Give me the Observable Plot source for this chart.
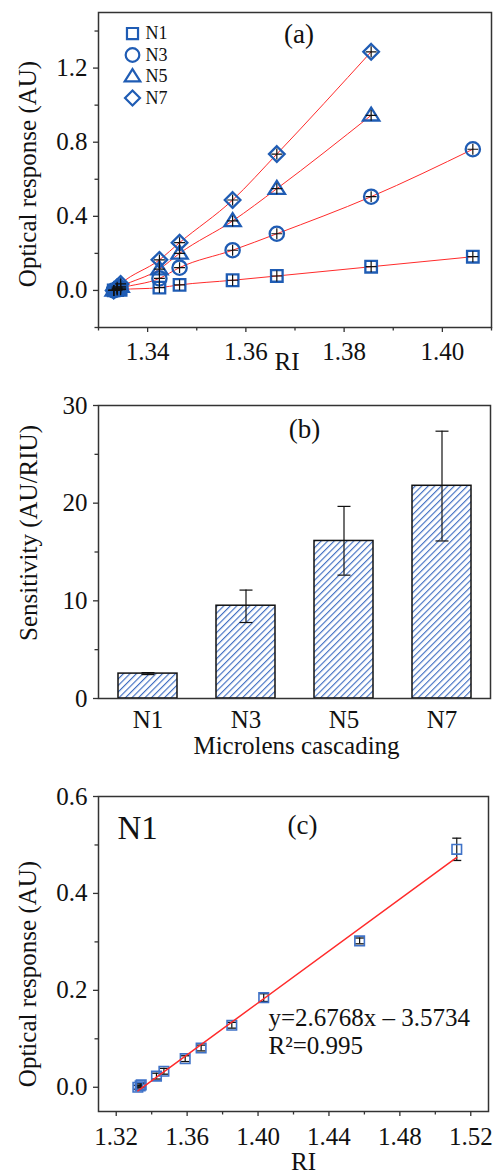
<!DOCTYPE html>
<html><head><meta charset="utf-8">
<script src="https://cdn.jsdelivr.net/npm/d3@7"></script>
<script src="https://cdn.jsdelivr.net/npm/@observablehq/plot@0.6"></script>
<style>
body{margin:0;background:#fff;}
#chart svg{display:block;}
</style>
</head><body><div id="chart"></div>
<script>
// ---------- Panel (a) data ----------
const seriesNames = ["N1", "N3", "N5", "N7"];
const riA = [1.3331, 1.3338, 1.3345, 1.3424, 1.3465, 1.3573, 1.3663, 1.3855, 1.4062];
const n1A = [0.000, 0.002, 0.004, 0.015, 0.030, 0.055, 0.078, 0.128, 0.182];
const n3A = [0.000, 0.006, 0.012, 0.065, 0.123, 0.217, 0.306, 0.506, 0.762];
const n5A = [0.000, 0.010, 0.020, 0.115, 0.200, 0.375, 0.549, 0.945];
const n7A = [0.000, 0.018, 0.035, 0.165, 0.258, 0.488, 0.736, 1.288];
const xMajorA = [1.34, 1.36, 1.38, 1.40];
const xMinorA = [1.33, 1.35, 1.37, 1.39, 1.41];
const yMajorA = [0.0, 0.4, 0.8, 1.2];
const yMinorA = [-0.2, 0.2, 0.6, 1.0, 1.4];

// ---------- Panel (b) data ----------
const cascades = ["N1", "N3", "N5", "N7"];
const sensitivity = [2.55, 9.5, 16.13, 21.78];
const sensLow = [2.45, 7.78, 12.63, 16.13];
const sensHigh = [2.65, 11.1, 19.67, 27.37];
const yMajorB = [0, 10, 20, 30];
const yMinorB = [5, 15, 25];

// ---------- Panel (c) data ----------
const riC = [1.3322, 1.3335, 1.3341, 1.3427, 1.3469, 1.3589, 1.3679, 1.3852, 1.4032, 1.4573, 1.5121];
const respC = [0.000, 0.003, 0.005, 0.023, 0.033, 0.059, 0.081, 0.128, 0.185, 0.302, 0.491];
const errC = [0.004, 0.004, 0.004, 0.006, 0.006, 0.006, 0.006, 0.006, 0.008, 0.006, 0.023];
const fitSlope = 2.6768;
const fitIntercept = -3.5734;
const xMajorC = [1.32, 1.36, 1.40, 1.44, 1.48, 1.52];
const xMinorC = [1.34, 1.38, 1.42, 1.46, 1.50];
const yMajorC = [0.0, 0.2, 0.4, 0.6];
const yMinorC = [0.1, 0.3, 0.5];

// ---------- styles ----------
const FONT = "'Liberation Serif', 'Times New Roman', serif";
const BLUE = "#1f5cb4";
const BLUE_C = "#3f72c8";
const RED = "#ff2b2b";
const AXIS = "#333";
const TXT = {textAnchor: "middle", lineAnchor: "middle", fill: "#111"};

// custom symbols
const mk = f => ({draw(ctx, size) { const r = Math.sqrt(size / Math.PI); f(ctx, r); }});
const symSquare = mk((c, r) => { const h = r * 0.85; c.moveTo(-h, -h); c.lineTo(h, -h); c.lineTo(h, h); c.lineTo(-h, h); c.closePath(); });
const symCircle = mk((c, r) => { const R = r * 1.05; c.moveTo(R, 0); c.arc(0, 0, R, 0, 2 * Math.PI); });
const symTri = mk((c, r) => { const w = r * 2.4, h = r * 1.9; c.moveTo(0, -h * 0.6); c.lineTo(w / 2, h * 0.4); c.lineTo(-w / 2, h * 0.4); c.closePath(); });
const symDiamond = mk((c, r) => { const d = r * 1.15; c.moveTo(0, -d); c.lineTo(d, 0); c.lineTo(0, d); c.lineTo(-d, 0); c.closePath(); });
const symPlus = mk((c, r) => { const L = r * 0.8; c.moveTo(-L, 0); c.lineTo(L, 0); c.moveTo(0, -L); c.lineTo(0, L); });
const symCap = mk((c, r) => { c.moveTo(-r, 0); c.lineTo(r, 0); });
const symbols = [symSquare, symCircle, symTri, symDiamond];

const root = document.getElementById("chart");

// ================= Panel (a) =================
const valsA = [n1A, n3A, n5A, n7A];
const rowsA = [];
valsA.forEach((vals, si) => vals.forEach((v, i) => rowsA.push({s: seriesNames[si], ri: riA[i], v})));

const marksA = [
  Plot.frame({stroke: AXIS, strokeWidth: 1.5}),
  Plot.axisX(xMajorA, {tickSize: 5, tickPadding: 10, tickFormat: d3.format(".2f"), stroke: AXIS, strokeWidth: 1.3, label: null}),
  Plot.axisX(xMinorA, {tickSize: 3.5, tickFormat: () => "", stroke: AXIS, strokeWidth: 1.3, label: null}),
  Plot.axisY(yMajorA, {tickSize: 5, tickPadding: 6, tickFormat: d3.format(".1f"), stroke: AXIS, strokeWidth: 1.3, label: null}),
  Plot.axisY(yMinorA, {tickSize: 3.5, tickFormat: () => "", stroke: AXIS, strokeWidth: 1.3, label: null}),
  Plot.line(rowsA, {x: "ri", y: "v", z: "s", stroke: RED, strokeWidth: 1, curve: "monotone-x"})
];
seriesNames.forEach((name, si) => {
  const rows = rowsA.filter(d => d.s === name);
  marksA.push(Plot.dot(rows, {x: "ri", y: "v", symbol: symbols[si], r: 6.8, stroke: BLUE, strokeWidth: 2.3, fill: "none"}));
});
marksA.push(Plot.dot(rowsA, {x: "ri", y: "v", symbol: symPlus, r: 6.8, stroke: "#111", strokeWidth: 1.2}));
// legend
seriesNames.forEach((name, si) => {
  const dy = 21 + si * 21.5;
  marksA.push(Plot.dot([name], {frameAnchor: "top-left", dx: 34, dy, symbol: symbols[si], r: 6.5, stroke: BLUE, strokeWidth: 2.2, fill: "none"}));
  marksA.push(Plot.text([name], {...TXT, frameAnchor: "top-left", dx: 47, dy, textAnchor: "start", fontSize: 18}));
});
marksA.push(Plot.text(["(a)"], {...TXT, frameAnchor: "top", dx: 4, dy: 22, fontSize: 27}));
marksA.push(Plot.text(["Optical response (AU)"], {...TXT, frameAnchor: "left", rotate: -90, dx: -71, dy: 4, fontSize: 25}));
marksA.push(Plot.text(["RI"], {...TXT, frameAnchor: "bottom", dx: -8, dy: 34, fontSize: 25}));

const plotA = Plot.plot({
  width: 496, height: 380,
  marginTop: 12, marginBottom: 53, marginLeft: 98, marginRight: 5,
  style: {fontFamily: FONT, fontSize: "25px", color: "#111", background: "white"},
  x: {domain: [1.33, 1.41], label: null},
  y: {domain: [-0.2, 1.5], label: null},
  marks: marksA
});
root.appendChild(plotA);

// ================= Panel (b) =================
const rowsB = cascades.map((c, i) => ({c, v: sensitivity[i], lo: sensLow[i], hi: sensHigh[i]}));
const plotB = Plot.plot({
  width: 496, height: 400,
  marginTop: 25, marginBottom: 82, marginLeft: 98, marginRight: 6,
  style: {fontFamily: FONT, fontSize: "25px", color: "#111", background: "white"},
  x: {domain: cascades, paddingInner: 0.4, paddingOuter: 0.2, label: null},
  y: {domain: [0, 30], label: null},
  marks: [
    Plot.barY(rowsB, {x: "c", y: "v", fill: "white", stroke: "#111", strokeWidth: 1.5}),
    Plot.ruleX(rowsB, {x: "c", y1: "lo", y2: "hi", stroke: "#111", strokeWidth: 1.2}),
    Plot.dot(rowsB, {x: "c", y: "lo", symbol: symCap, r: 6.5, stroke: "#111", strokeWidth: 1.2}),
    Plot.dot(rowsB, {x: "c", y: "hi", symbol: symCap, r: 6.5, stroke: "#111", strokeWidth: 1.2}),
    Plot.frame({stroke: AXIS, strokeWidth: 1.5}),
    Plot.axisX({tickSize: 0, tickPadding: 12, label: null}),
    Plot.axisY(yMajorB, {tickSize: 5, tickPadding: 6, stroke: AXIS, strokeWidth: 1.3, label: null}),
    Plot.axisY(yMinorB, {tickSize: 3.5, tickFormat: () => "", stroke: AXIS, strokeWidth: 1.3, label: null}),
    Plot.text(["(b)"], {...TXT, frameAnchor: "top", dx: 10, dy: 24, fontSize: 27}),
    Plot.text(["Sensitivity (AU/RIU)"], {...TXT, frameAnchor: "left", rotate: -90, dx: -70, dy: -19, fontSize: 25}),
    Plot.text(["Microlens cascading"], {...TXT, frameAnchor: "bottom", dx: 2, dy: 47, fontSize: 25})
  ]
});
// hatch pattern
{
  const ns = "http://www.w3.org/2000/svg";
  const defs = document.createElementNS(ns, "defs");
  const pat = document.createElementNS(ns, "pattern");
  pat.setAttribute("id", "hatchB");
  pat.setAttribute("patternUnits", "userSpaceOnUse");
  pat.setAttribute("width", "4.6");
  pat.setAttribute("height", "4.6");
  pat.setAttribute("patternTransform", "rotate(45)");
  const bg = document.createElementNS(ns, "rect");
  bg.setAttribute("width", "4.6"); bg.setAttribute("height", "4.6"); bg.setAttribute("fill", "white");
  const ln = document.createElementNS(ns, "line");
  ln.setAttribute("x1", "0.6"); ln.setAttribute("y1", "0"); ln.setAttribute("x2", "0.6"); ln.setAttribute("y2", "4.6");
  ln.setAttribute("stroke", "#2f62bd"); ln.setAttribute("stroke-width", "1.05");
  pat.appendChild(bg); pat.appendChild(ln); defs.appendChild(pat);
  plotB.insertBefore(defs, plotB.firstChild);
  const g = plotB.querySelector('g[aria-label="bar"]');
  if (g) { g.setAttribute("fill", "url(#hatchB)"); g.querySelectorAll("rect").forEach(r => r.setAttribute("fill", "url(#hatchB)")); }
}
root.appendChild(plotB);

// ================= Panel (c) =================
const rowsC = riC.map((x, i) => ({x, y: respC[i], lo: respC[i] - errC[i], hi: respC[i] + errC[i]}));
const fitLine = d3.extent(riC).map(x => ({x, y: fitSlope * x + fitIntercept}));
const plotC = Plot.plot({
  width: 496, height: 394,
  marginTop: 16, marginBottom: 63, marginLeft: 98, marginRight: 8,
  style: {fontFamily: FONT, fontSize: "25px", color: "#111", background: "white"},
  x: {domain: [1.31, 1.53], label: null},
  y: {domain: [-0.05, 0.6], label: null},
  marks: [
    Plot.frame({stroke: AXIS, strokeWidth: 1.5}),
    Plot.axisX(xMajorC, {tickSize: 5, tickPadding: 11, tickFormat: d3.format(".2f"), stroke: AXIS, strokeWidth: 1.3, label: null}),
    Plot.axisX(xMinorC, {tickSize: 3.5, tickFormat: () => "", stroke: AXIS, strokeWidth: 1.3, label: null}),
    Plot.axisY(yMajorC, {tickSize: 5, tickPadding: 6, tickFormat: d3.format(".1f"), stroke: AXIS, strokeWidth: 1.3, label: null}),
    Plot.axisY(yMinorC, {tickSize: 3.5, tickFormat: () => "", stroke: AXIS, strokeWidth: 1.3, label: null}),
    Plot.ruleX(rowsC, {x: "x", y1: "lo", y2: "hi", stroke: "#111", strokeWidth: 1.2}),
    Plot.dot(rowsC, {x: "x", y: "lo", symbol: symCap, r: 4.5, stroke: "#111", strokeWidth: 1.3}),
    Plot.dot(rowsC, {x: "x", y: "hi", symbol: symCap, r: 4.5, stroke: "#111", strokeWidth: 1.3}),
    Plot.dot(rowsC, {x: "x", y: "y", symbol: symSquare, r: 5.6, stroke: BLUE_C, strokeWidth: 1.6, fill: "none"}),
    Plot.line(fitLine, {x: "x", y: "y", stroke: RED, strokeWidth: 1.5}),
    Plot.text(["N1"], {...TXT, frameAnchor: "top-left", dx: 19, dy: 32, textAnchor: "start", fontSize: 33}),
    Plot.text(["(c)"], {...TXT, frameAnchor: "top", dx: 9, dy: 29, fontSize: 27}),
    Plot.text(["y=2.6768x \u2013 3.5734"], {...TXT, frameAnchor: "top-left", dx: 170, dy: 229, textAnchor: "start", lineAnchor: "bottom", fontSize: 25}),
    Plot.text(["R\u00b2=0.995"], {...TXT, frameAnchor: "top-left", dx: 170, dy: 257, textAnchor: "start", lineAnchor: "bottom", fontSize: 25}),
    Plot.text(["Optical response (AU)"], {...TXT, frameAnchor: "left", rotate: -90, dx: -71, dy: 20, fontSize: 25}),
    Plot.text(["RI"], {...TXT, frameAnchor: "bottom", dx: 10, dy: 50, fontSize: 25})
  ]
});
root.appendChild(plotC);
</script>
</body></html>
